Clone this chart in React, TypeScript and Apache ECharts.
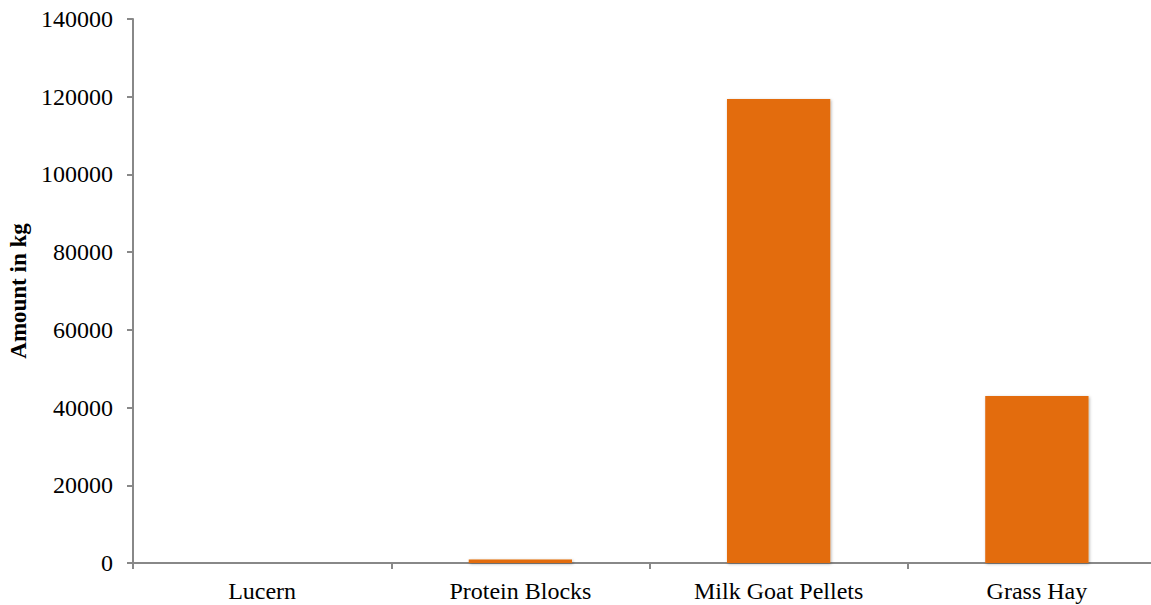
import React, { useEffect, useRef } from "react";
import * as echarts from "echarts";

const categories = ["Lucern", "Protein Blocks", "Milk Goat Pellets", "Grass Hay"];
const amounts = [0, 900, 119400, 43000];
const yAxisTitle = "Amount in kg";

export default function App() {
  const ref = useRef<HTMLDivElement>(null);
  useEffect(() => {
    if (!ref.current) return;
    const chart = echarts.init(ref.current, null, { renderer: "svg" });
    const font = "Liberation Serif, Times New Roman, serif";
    const labelStyle = { color: "#000", fontFamily: font, fontSize: 24, fontWeight: "normal" as const };
    chart.setOption({
      animation: false,
      backgroundColor: "#ffffff",
      textStyle: { fontFamily: font },
      grid: {
        left: 133,
        width: 1033,
        top: 19,
        bottom: 42,
        containLabel: false,
        outerBoundsMode: "none",
      },
      xAxis: {
        type: "category",
        data: categories,
        axisLine: { lineStyle: { color: "#888888", width: 2 } },
        axisTick: { show: true, length: 6, lineStyle: { color: "#888888", width: 2 } },
        axisLabel: { ...labelStyle, margin: 16 },
      },
      yAxis: {
        type: "value",
        min: 0,
        max: 140000,
        interval: 20000,
        name: yAxisTitle,
        nameLocation: "middle",
        nameGap: 103,
        nameRotate: 90,
        nameTextStyle: { color: "#000", fontFamily: font, fontSize: 23, fontWeight: "bold" },
        axisLine: { show: true, lineStyle: { color: "#888888", width: 2 } },
        axisTick: { show: true, length: 6, lineStyle: { color: "#888888", width: 2 } },
        splitLine: { show: false },
        axisLabel: {
          ...labelStyle,
          margin: 20,
          formatter: (v: number) => String(v),
        },
      },
      series: [
        {
          type: "bar",
          data: amounts,
          barWidth: "40%",
          itemStyle: {
            color: "#E36C0A",
            shadowBlur: 3,
            shadowColor: "rgba(0,0,0,0.3)",
            shadowOffsetX: 1,
            shadowOffsetY: 1,
          },
        },
      ],
    });
    return () => chart.dispose();
  }, []);
  return <div ref={ref} style={{ width: 1151, height: 605, position: "absolute", left: 0, top: 0 }} />;
}
